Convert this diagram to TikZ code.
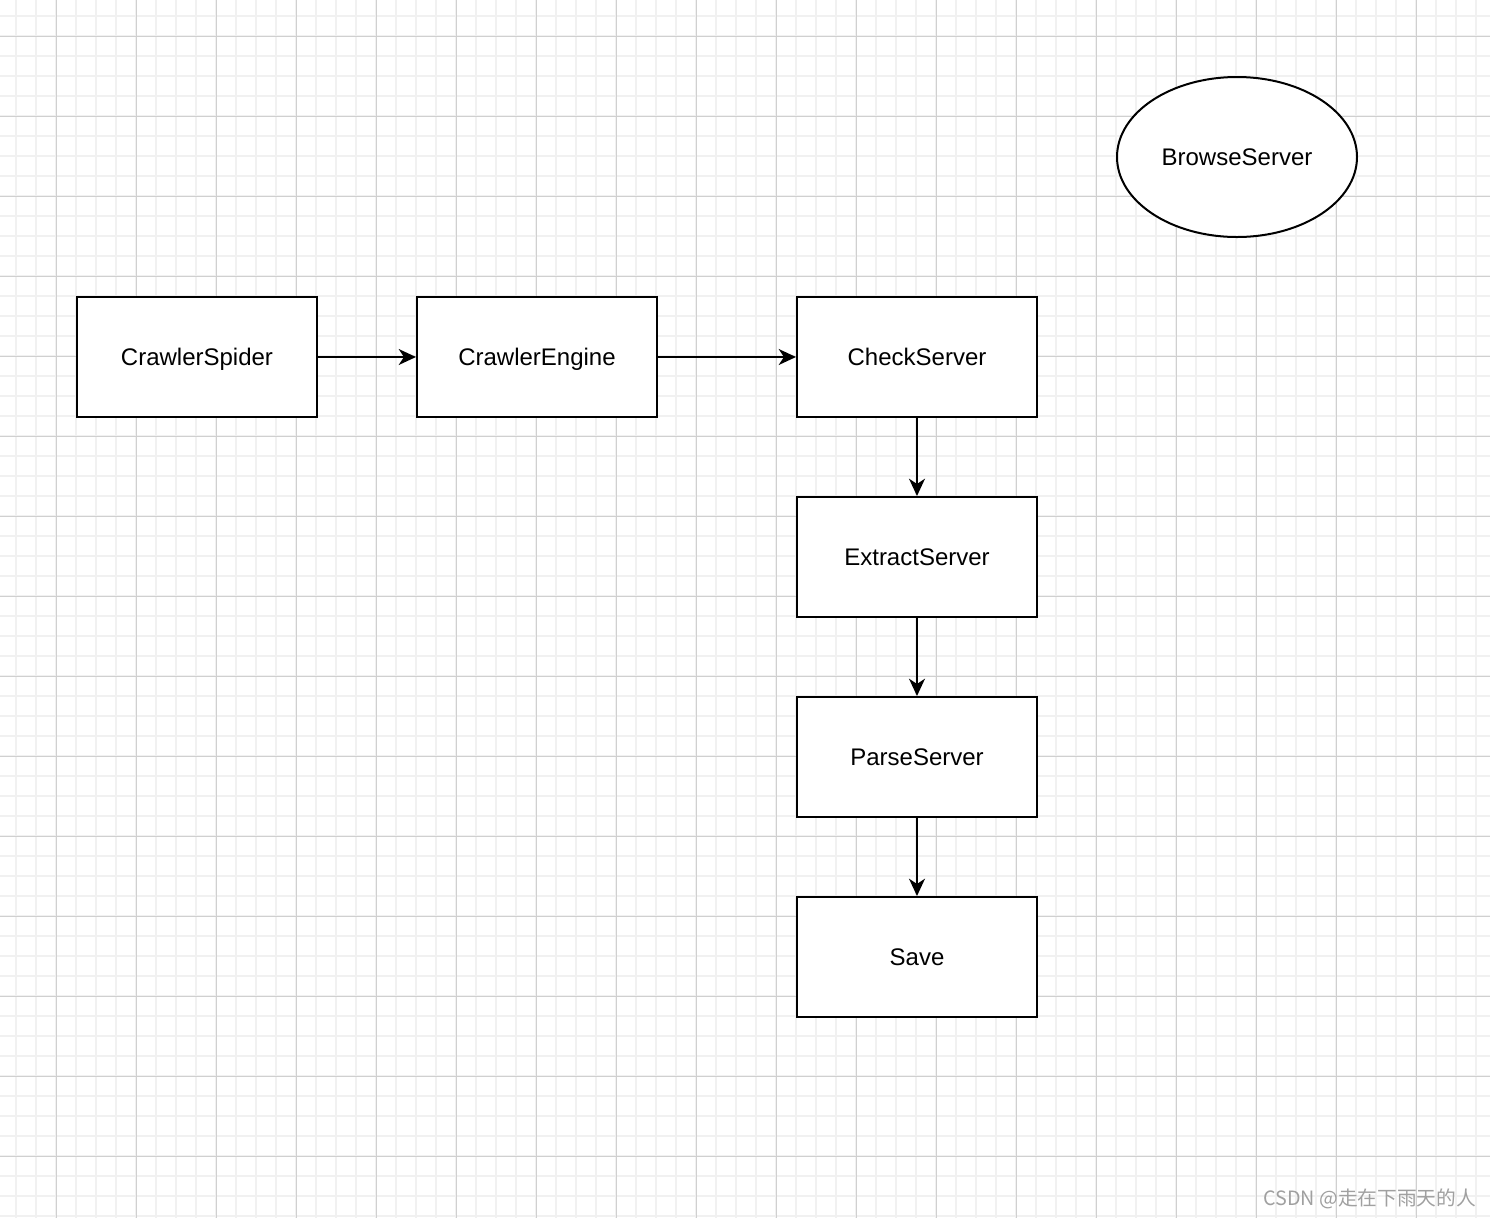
\documentclass[tikz,border=0pt]{standalone}
\usepackage{fontspec}
\setmainfont{Liberation Sans}
\newfontfamily\cjk{Noto Sans CJK SC}
\usetikzlibrary{arrows.meta,shapes.geometric}
\definecolor{minorgrid}{HTML}{F1F1F1}
\definecolor{majorgrid}{HTML}{D0D0D0}
\definecolor{wmgray}{HTML}{A0A0A0}
\tikzset{
  lbl/.style={font=\fontsize{18}{21}\selectfont, text height=12.9pt, text depth=0pt},
  box/.style={lbl, draw=black, line width=1.5pt, fill=white, rectangle, minimum width=180pt, minimum height=90pt, inner sep=0pt},
  oval/.style={lbl, draw=black, line width=1.5pt, fill=white, ellipse, minimum width=180pt, minimum height=120pt, inner sep=0pt},
  conn/.style={draw=black, line width=1.3pt, -{Stealth[length=13pt,width=12pt,inset=4pt]}},
}
\begin{document}
\begin{tikzpicture}[x=0.75pt,y=-0.75pt]
\useasboundingbox (0,0) rectangle (1490,1218);
\fill[white] (0,0) rectangle (1490,1218);
% minor grid
\foreach \i in {16,36,...,1476} \draw[minorgrid, line width=1.2pt] (\i,0) -- (\i,1218);
\foreach \j in {16,36,...,1216} \draw[minorgrid, line width=1.2pt] (0,\j) -- (1490,\j);
% major grid
\foreach \i in {56,136,...,1416} \draw[majorgrid, line width=0.75pt] (\i,0) -- (\i,1218);
\foreach \j in {36,116,...,1156} \draw[majorgrid, line width=0.75pt] (0,\j) -- (1490,\j);
% nodes
\node[box] (spider) at (197,357) {CrawlerSpider};
\node[box] (engine) at (537,357) {CrawlerEngine};
\node[box] (check) at (917,357) {CheckServer};
\node[box] (extract) at (917,557) {ExtractServer};
\node[box] (parse) at (917,757) {ParseServer};
\node[box] (save) at (917,957) {Save};
\node[oval] (browse) at (1237,157) {BrowseServer};
% connectors
\draw[conn] (spider.east) -- (engine.west);
\draw[conn] (engine.east) -- (check.west);
\draw[conn] (check.south) -- (extract.north);
\draw[conn] (extract.south) -- (parse.north);
\draw[conn] (parse.south) -- (save.north);
% watermark
\node[anchor=base west, inner sep=0pt, text=wmgray, font=\cjk\fontsize{14.8}{17}\selectfont] (wm) at (1263,1205) {CSDN @走在下雨天的人};
\end{tikzpicture}
\end{document}
